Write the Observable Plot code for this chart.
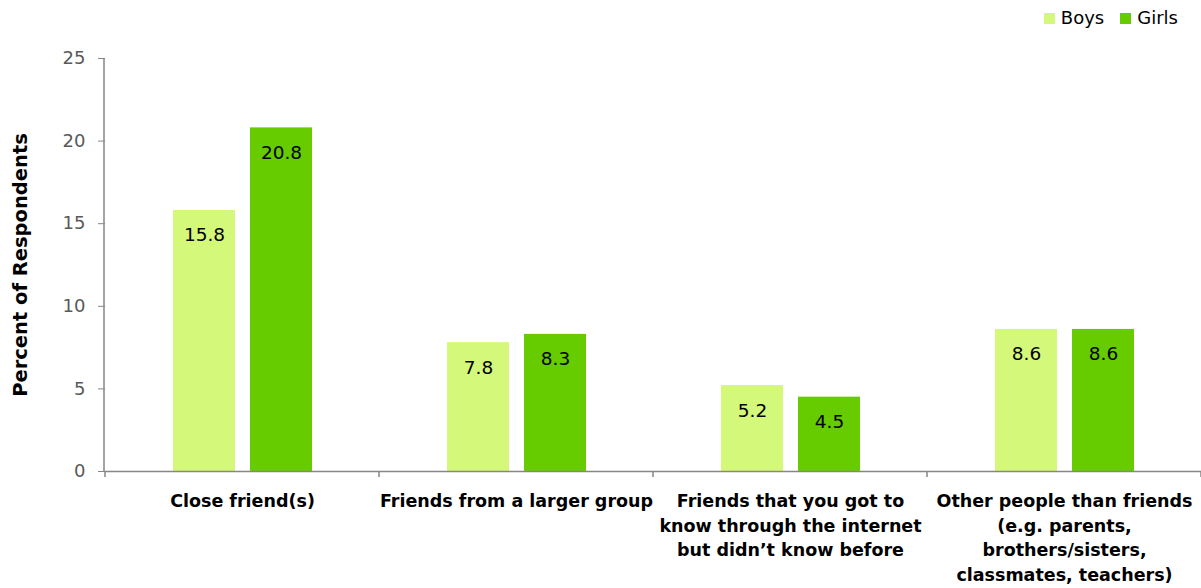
<!DOCTYPE html>
<html>
<head>
<meta charset="utf-8">
<script src="https://cdn.jsdelivr.net/npm/d3@7"></script>
<script src="https://cdn.jsdelivr.net/npm/@observablehq/plot@0.6"></script>
<style>
  html, body { margin: 0; padding: 0; background: #fff; }
  body { width: 1201px; height: 588px; overflow: hidden; font-family: "DejaVu Sans", sans-serif; }
  #legend { height: 30px; display: flex; justify-content: flex-end; align-items: center; padding-right: 23px; padding-top: 6px; box-sizing: border-box; font-size: 18px; color: #000; line-height: 1; }
  #legend .item { display: flex; align-items: center; margin-left: 16px; }
  #legend .sw { width: 11px; height: 11px; margin-right: 6px; }
</style>
</head>
<body>
<div id="legend"></div>
<div id="chart"></div>
<script>
const categories = [
  "Close friend(s)",
  "Friends from a larger group",
  "Friends that you got to\nknow through the internet\nbut didn’t know before",
  "Other people than friends\n(e.g. parents,\nbrothers/sisters,\nclassmates, teachers)"
];
const groups = ["Boys", "Girls"];
const boys = [15.8, 7.8, 5.2, 8.6];
const girls = [20.8, 8.3, 4.5, 8.6];
const yTicks = [0, 5, 10, 15, 20, 25];
const colors = ["#d4f87a", "#66cc00"];
const yLabel = "Percent of Respondents";

const data = categories.flatMap((c, i) => [
  {category: c, group: groups[0], value: boys[i]},
  {category: c, group: groups[1], value: girls[i]}
]);

// legend
const legend = document.getElementById("legend");
groups.forEach((g, i) => {
  const item = document.createElement("div");
  item.className = "item";
  item.innerHTML = `<span class="sw" style="background:${colors[i]}"></span><span>${g}</span>`;
  legend.appendChild(item);
});

const font = "'DejaVu Sans', sans-serif";
const chart = Plot.plot({
  width: 1201,
  height: 558,
  marginTop: 28,
  marginBottom: 117,
  marginLeft: 104,
  marginRight: 0,
  style: {fontFamily: font, background: "#fff", overflow: "visible"},
  fx: {domain: categories, padding: 0, label: null, axis: null},
  x: {domain: groups, paddingInner: 0.2, paddingOuter: 0.87, axis: null},
  y: {domain: [0, 25], label: null, axis: null},
  color: {domain: groups, range: colors},
  marks: [
    Plot.barY(data, {fx: "category", x: "group", y: "value", fill: "group"}),
    Plot.text(data, {fx: "category", x: "group", y: "value", text: d => d.value.toFixed(1), dy: 25, fontSize: 18.5, fill: "#000"}),
    Plot.ruleY([0], {stroke: "#868686", strokeWidth: 1.5}),
    Plot.axisY({ticks: yTicks, tickSize: 7, tickPadding: 13, fontSize: 18, color: "#595959", stroke: "#868686", label: null}),
    Plot.axisY({ticks: [], label: yLabel, labelAnchor: "center", labelArrow: "none", labelOffset: 92, fontSize: 19.5, fontWeight: "bold", color: "#000"}),
    Plot.axisFx({anchor: "bottom", tickSize: 0, tickPadding: 18, fontSize: 17.5, fontWeight: "bold", lineHeight: 1.41, fill: "#000", label: null})
  ]
});
document.getElementById("chart").appendChild(chart);

// y axis domain line and category boundary ticks, from Plot's own scales
const svg = d3.select(chart.tagName.toLowerCase() === "svg" ? chart : chart.querySelector("svg"));
const fx = chart.scale("fx");
const y = chart.scale("y");
const base = y.apply(0);
svg.append("line")
  .attr("x1", fx.range[0]).attr("x2", fx.range[0])
  .attr("y1", y.apply(25)).attr("y2", base)
  .attr("stroke", "#868686").attr("stroke-width", 1.5);
const bounds = categories.map(c => fx.apply(c)).concat([fx.apply(categories[categories.length - 1]) + fx.step]);
svg.selectAll("line.bt").data(bounds).join("line")
  .attr("class", "bt")
  .attr("x1", d => d).attr("x2", d => d)
  .attr("y1", base).attr("y2", base + 6)
  .attr("stroke", "#868686").attr("stroke-width", 1.5);
</script>
</body>
</html>
